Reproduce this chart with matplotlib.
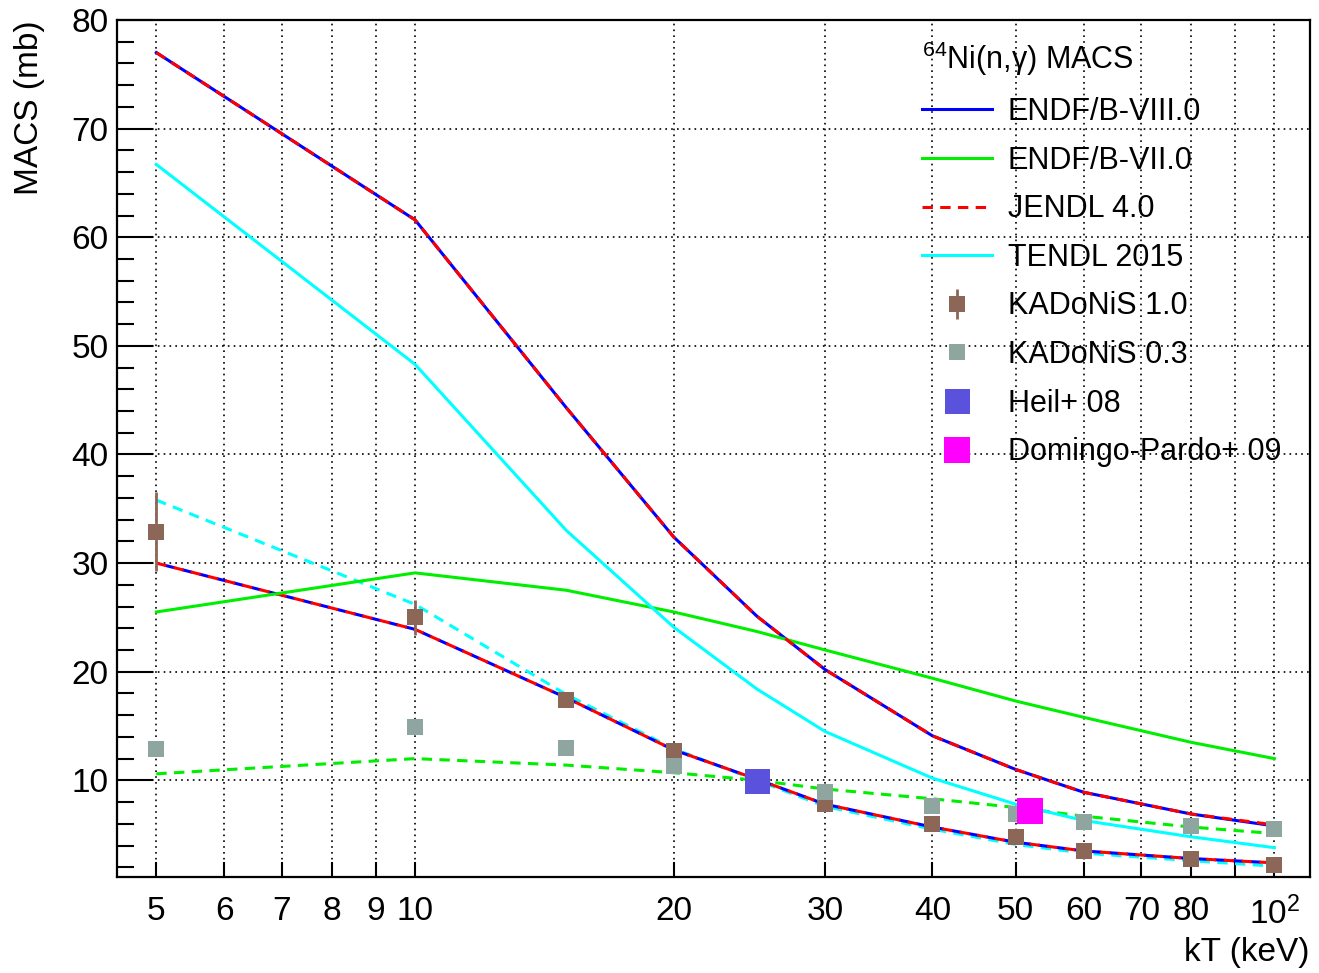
import matplotlib
matplotlib.use("Agg")
import matplotlib.pyplot as plt
from matplotlib.ticker import FixedLocator, NullFormatter

plt.rcParams['font.family'] = ['Liberation Sans', 'DejaVu Sans']
plt.rcParams['mathtext.fontset'] = 'custom'
plt.rcParams['mathtext.rm'] = 'Liberation Sans'
plt.rcParams['mathtext.it'] = 'Liberation Sans:italic'

# temperatures (keV)
kT = [5, 10, 15, 20, 25, 30, 40, 50, 60, 80, 100]

# evaluated-library MACS (upper set, solid)
endf8 = [77.0, 61.6, 44.3, 32.4, 25.1, 20.2, 14.1, 11.0, 8.9, 6.9, 5.8]
endf7 = [25.5, 29.1, 27.5, 25.5, 23.7, 22.0, 19.4, 17.3, 15.8, 13.5, 12.0]
jendl = [77.0, 61.6, 44.3, 32.4, 25.1, 20.2, 14.1, 11.0, 8.9, 6.9, 5.9]
tendl = [66.7, 48.3, 33.0, 24.1, 18.4, 14.5, 10.2, 7.8, 6.3, 4.8, 3.8]

# lower set (dashed)
endf8_lo = [30.0, 23.9, 17.6, 12.8, 10.1, 7.8, 5.7, 4.3, 3.5, 2.8, 2.4]
endf7_lo = [10.6, 12.0, 11.4, 10.7, 10.0, 9.2, 8.3, 7.5, 6.7, 5.7, 5.1]
jendl_lo = [30.0, 23.9, 17.6, 12.8, 10.1, 7.8, 5.7, 4.3, 3.5, 2.8, 2.4]
tendl_lo = [35.8, 26.2, 17.9, 12.9, 10.0, 7.6, 5.5, 4.1, 3.3, 2.6, 2.1]

# compilations / measurements
kad_x = [5, 10, 15, 20, 30, 40, 50, 60, 80, 100]
kad10 = [32.9, 25.0, 17.4, 12.7, 7.8, 6.0, 4.8, 3.5, 2.8, 2.2]
kad10_err = [3.6, 1.6, 0.4, 0.4, 0.3, 0.3, 0.6, 0.2, 0.2, 0.2]
kad03 = [12.9, 14.9, 13.0, 11.3, 8.9, 7.6, 6.9, 6.2, 5.8, 5.5]
heil_x, heil_y = [25], [9.9]
dp_x, dp_y = [52], [7.2]

xticks_lab = [5, 6, 7, 8, 9, 10, 20, 30, 40, 50, 60, 70, 80, 90, 100]
xtick_text = ['5', '6', '7', '8', '9', '10', '20', '30', '40', '50', '60', '70', '80', '', '$10^{2}$']

fig = plt.figure(figsize=(13.19, 9.73), dpi=100)
ax = fig.add_axes([117/1319, 1-877/973, (1310-117)/1319, (877-20)/973])

lw = 2.2
dash = (0, (3.4, 2.4))
h_e8, = ax.plot(kT, endf8, color='#0000ff', lw=lw, label='ENDF/B-VIII.0', zorder=3)
h_e7, = ax.plot(kT, endf7, color='#00ee00', lw=lw, label='ENDF/B-VII.0', zorder=3)
h_je, = ax.plot(kT, jendl, color='#ff0000', lw=lw, ls=dash, label='JENDL 4.0', zorder=3)
h_te, = ax.plot(kT, tendl, color='#00ffff', lw=lw, label='TENDL 2015', zorder=3)

ax.plot(kT, tendl_lo, color='#00ffff', lw=lw, ls=dash, zorder=2)
ax.plot(kT, endf7_lo, color='#00ee00', lw=lw, ls=dash, zorder=2)
ax.plot(kT, endf8_lo, color='#0000ff', lw=lw, ls=(2.9, (3.4, 2.4)), zorder=2)
ax.plot(kT, jendl_lo, color='#ff0000', lw=lw, ls=dash, zorder=2)

h_k10 = ax.errorbar(kad_x, kad10, yerr=kad10_err, fmt='s', color='#8c6656', ms=11.5,
                    mew=0, elinewidth=2, capsize=6, capthick=2, label='KADoNiS 1.0', zorder=4)
h_k03, = ax.plot(kad_x, kad03, 's', color='#8fa5a0', ms=11, mew=0, label='KADoNiS 0.3', zorder=5)
h_he, = ax.plot(heil_x, heil_y, 's', color='#5a52dc', ms=18, mew=0, label='Heil+ 08', zorder=6)
h_dp, = ax.plot(dp_x, dp_y, 's', color='#ff00ff', ms=19, mew=0, label='Domingo-Pardo+ 09', zorder=6)

ax.set_xscale('log')
ax.set_xlim(4.5, 110)
ax.set_ylim(1.1, 80)

ax.set_xticks(xticks_lab)
ax.set_xticklabels(xtick_text)
ax.xaxis.set_minor_locator(FixedLocator([]))
ax.xaxis.set_minor_formatter(NullFormatter())
ax.set_yticks([10, 20, 30, 40, 50, 60, 70, 80])
ax.set_yticks([y for y in range(2, 80, 2) if y % 10 != 0], minor=True)

ax.tick_params(axis='both', which='both', direction='in', top=False, right=False,
               labelsize=24, width=1.5)
ax.tick_params(axis='y', which='major', length=26, pad=6)
ax.tick_params(axis='y', which='minor', length=12)
ax.tick_params(axis='x', which='major', length=11, pad=14)

ax.grid(True, which='major', color='black', ls=(0, (1, 2.5)), lw=1.2)
for s in ax.spines.values():
    s.set_linewidth(1.6)

ax.set_ylabel('MACS (mb)', fontsize=24, loc='top', labelpad=19)
ax.set_xlabel('kT (keV)', fontsize=24, loc='right', labelpad=4)

handles = [h_e8, h_e7, h_je, h_te, h_k10, h_k03, h_he, h_dp]
labels = [h.get_label() for h in handles]
leg = ax.legend(handles, labels, loc='upper left', bbox_to_anchor=(922/1319, 1-40/973),
                bbox_transform=fig.transFigure, frameon=False, fontsize=22,
                title='$^{64}$Ni(n,γ) MACS', title_fontsize=22,
                alignment='left', borderpad=0, borderaxespad=0,
                handlelength=2.3, handletextpad=0.5, labelspacing=0.61,
                numpoints=1)

fig.savefig('out.png', dpi=100)
